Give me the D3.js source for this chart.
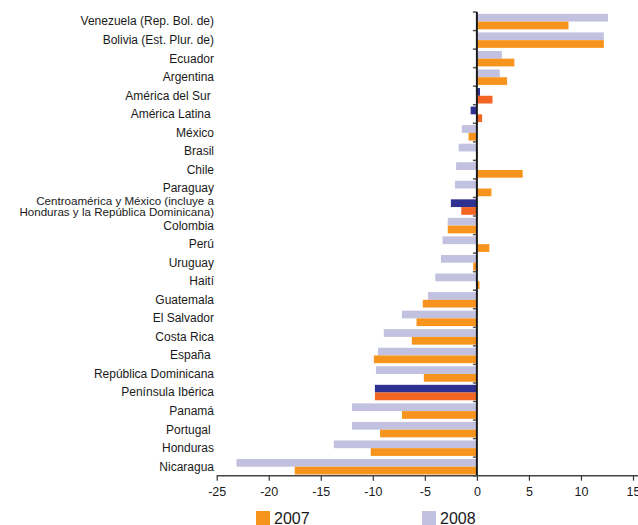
<!DOCTYPE html>
<html><head><meta charset="utf-8">
<script src="https://cdn.jsdelivr.net/npm/d3@7"></script>
<style>
html,body{margin:0;padding:0;background:#fff;}
text{font-family:"Liberation Sans",Arial,Helvetica,sans-serif;fill:#1a1a1a;}
</style></head>
<body>
<svg id="chart" width="638" height="525"></svg>
<script>
const categories = [
  "Venezuela (Rep. Bol. de)", "Bolivia (Est. Plur. de)", "Ecuador", "Argentina",
  "América del Sur ", "América Latina ", "México", "Brasil", "Chile", "Paraguay",
  "Centroamérica y México (incluye a\nHonduras y la República Dominicana)",
  "Colombia", "Perú", "Uruguay", "Haití", "Guatemala", "El Salvador", "Costa Rica",
  "España ", "República Dominicana", "Península Ibérica", "Panamá", "Portugal ",
  "Honduras", "Nicaragua"
];
const aggregates = ["América del Sur ", "América Latina ",
  "Centroamérica y México (incluye a\nHonduras y la República Dominicana)", "Península Ibérica"];
const values2007 = [8.8, 12.2, 3.6, 2.9, 1.5, 0.5, -0.8, 0.1, 4.4, 1.4, -1.5, -2.8, 1.2, -0.35, 0.25,
  -5.2, -5.8, -6.25, -9.9, -5.1, -9.8, -7.2, -9.3, -10.2, -17.5];
const values2008 = [12.6, 12.2, 2.4, 2.2, 0.3, -0.6, -1.45, -1.75, -2.0, -2.1, -2.5, -2.8, -3.3, -3.45, -4.0,
  -4.7, -7.2, -8.95, -9.5, -9.7, -9.8, -12.0, -12.0, -13.75, -23.1];
const series = ["2008", "2007"];
const xTicks = [-25, -20, -15, -10, -5, 0, 5, 10, 15];

const colors = {"2007": "#f7941d", "2008": "#c2c1e0"};
const aggColors = {"2007": "#f26522", "2008": "#2e3192"};

const svg = d3.select("#chart");
const W = 638;
const x = d3.scaleLinear().domain([-25, 15]).range([216.7, 633]);
const y = d3.scaleBand().domain(categories).range([12, 475.7]).padding(0);
const sub = d3.scaleBand().domain(series).range([0, y.bandwidth()]).paddingInner(0).paddingOuter(0.2).align(0.6);

const rows = categories.map((c, i) => ({cat: c, v: {"2007": values2007[i], "2008": values2008[i]}}));

// bars
const g = svg.append("g");
rows.forEach(r => {
  series.forEach(s => {
    const v = r.v[s];
    const isAgg = aggregates.includes(r.cat);
    g.append("rect")
      .attr("x", x(Math.min(0, v)))
      .attr("width", Math.abs(x(v) - x(0)))
      .attr("y", y(r.cat) + sub(s))
      .attr("height", sub.bandwidth())
      .attr("fill", isAgg ? aggColors[s] : colors[s]);
  });
});

// category tick marks on the vertical axis
const boundaries = categories.map(c => y(c)).concat([y.range()[1]]);
svg.append("g").selectAll("line").data(boundaries).join("line")
  .attr("x1", x(0) - 4).attr("x2", x(0))
  .attr("y1", d => d).attr("y2", d => d)
  .attr("stroke", "#555").attr("stroke-width", 1.5);

// vertical zero axis
svg.append("line")
  .attr("x1", x(0)).attr("x2", x(0))
  .attr("y1", y.range()[0]).attr("y2", y.range()[1])
  .attr("stroke", "#1a1a1a").attr("stroke-width", 2);

// category labels
const lab = svg.append("g");
rows.forEach(r => {
  const lines = r.cat.split("\n");
  const cy = y(r.cat) + y.bandwidth() / 2;
  const lh = 11.2;
  const t = lab.append("text")
    .attr("text-anchor", "end")
    .attr("font-size", lines.length > 1 ? 11.6 : 12)
    .style("white-space", "pre");
  lines.forEach((ln, k) => {
    t.append("tspan")
      .attr("x", 214)
      .attr("y", cy + (k - (lines.length - 1) / 2) * lh)
      .attr("dy", "0.35em")
      .text(ln);
  });
});

// bottom axis
const axis = svg.append("g").attr("transform", `translate(0,${y.range()[1]})`)
  .call(d3.axisBottom(x).tickValues(xTicks).tickFormat(d => String(d))
    .tickSize(5).tickSizeOuter(0).tickPadding(6));
axis.select(".domain").remove();
axis.append("line").attr("x1", x(-25)).attr("x2", W).attr("y1", 0).attr("y2", 0)
  .attr("stroke", "#444").attr("stroke-width", 1.5);
axis.selectAll(".tick line").attr("stroke", "#333").attr("stroke-width", 1.2);
axis.selectAll(".tick text").attr("font-size", 12.5)
  .attr("font-family", "'Liberation Sans',Arial,Helvetica,sans-serif").attr("fill", "#1a1a1a");

// legend
const legendItems = [{s: "2007", x: 256}, {s: "2008", x: 422}];
const leg = svg.append("g");
legendItems.forEach(d => {
  leg.append("rect").attr("x", d.x).attr("y", 511).attr("width", 14).attr("height", 14).attr("fill", colors[d.s]);
  leg.append("text").attr("x", d.x + 18).attr("y", 524).attr("font-size", 16).text(d.s);
});
</script>
</body></html>
